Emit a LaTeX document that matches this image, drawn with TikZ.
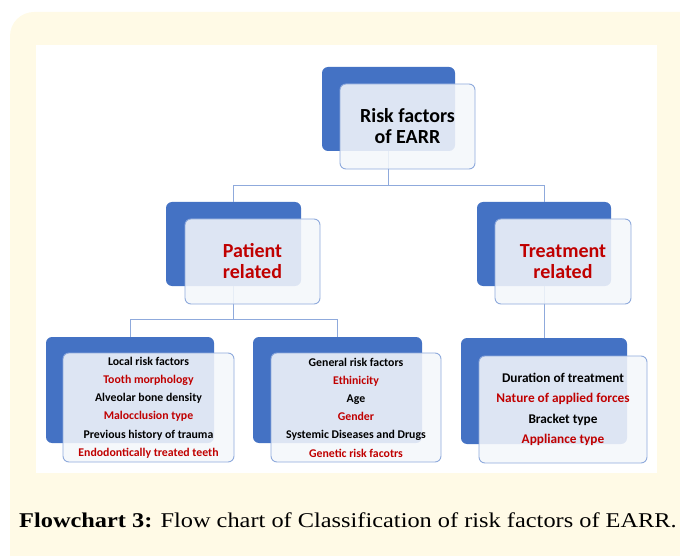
\documentclass[tikz,border=0pt]{standalone}
\usepackage{fontspec}
\setmainfont{Carlito}
\newfontfamily\capfont[FakeStretch=1.16]{Liberation Serif}
\definecolor{earrblue}{HTML}{4472C4}
\definecolor{edgeblue}{HTML}{8FAADC}
\definecolor{earrred}{HTML}{C00000}
\definecolor{cream}{HTML}{FFFAE6}
\newcommand{\rk}[1]{\textcolor{earrred}{#1}}

\begin{document}
\begin{tikzpicture}[x=1pt, y=-1pt,
    back/.style={rectangle, rounded corners=6pt, fill=earrblue, inner sep=0pt},
    front/.style={rectangle, rounded corners=6pt, draw=edgeblue, line width=0.9pt,
                  fill=white!94!earrblue, fill opacity=0.87, text opacity=1,
                  inner sep=0pt, align=center},
    conn/.style={draw=edgeblue, line width=0.9pt},
    bigtxt/.style={font=\fontsize{20}{21}\selectfont\bfseries},
    listtxt/.style={font=\fontsize{11.8}{18.2}\selectfont\bfseries},
    treattxt/.style={font=\fontsize{13.3}{20.5}\selectfont\bfseries}]
  \useasboundingbox (0,0) rectangle (680,556);
  \clip (0,0) rectangle (680,556);
  \fill[cream, rounded corners=24pt] (10,12) rectangle (720,600);
  \fill[white] (36,45) rectangle (657,473);

  % blue back boxes
  \node[back, minimum width=133pt, minimum height=84pt] (root) at (388.5,109) {};
  \node[back, minimum width=135pt, minimum height=84pt] (patient) at (233.5,244) {};
  \node[back, minimum width=134pt, minimum height=84pt] (treat) at (544,244) {};
  \node[back, minimum width=168pt, minimum height=106pt] (local) at (130,390) {};
  \node[back, minimum width=169pt, minimum height=106pt] (general) at (337.5,390) {};
  \node[back, minimum width=166pt, minimum height=106pt] (tfac) at (544,391) {};

  % connectors
  \draw[conn] (root.south) -- ++(0,34) -| (patient.north);
  \draw[conn] (root.south) -- ++(0,34) -| (treat.north);
  \draw[conn] (patient.south) -- ++(0,33) -| (local.north);
  \draw[conn] (patient.south) -- ++(0,33) -| (general.north);
  \draw[conn] (treat.south) -- (tfac.north);

  % front boxes with text
  \node[front, bigtxt, minimum width=135pt, minimum height=85pt] (rootF) at (407.5,126.5)
    {Risk factors\\of EARR};
  \node[front, bigtxt, text=earrred, minimum width=135pt, minimum height=85pt] (patientF)
    at (252.5,261.5) {Patient\\related};
  \node[front, bigtxt, text=earrred, minimum width=136pt, minimum height=85pt] (treatF)
    at (563,261.5) {Treatment\\related};
  \node[front, listtxt, minimum width=171pt, minimum height=109pt] (localF) at (148.5,407.5)
    {Local risk factors\\ \rk{Tooth morphology}\\ Alveolar bone density\\
     \rk{Malocclusion type}\\ Previous history of trauma\\ \rk{Endodontically treated teeth}};
  \node[front, listtxt, minimum width=170pt, minimum height=109pt] (generalF) at (356,407.5)
    {General risk factors\\ \rk{Ethinicity}\\ Age\\ \rk{Gender}\\
     Systemic Diseases and Drugs\\ \rk{Genetic risk facotrs}};
  \node[front, treattxt, minimum width=168pt, minimum height=107pt] (tfacF) at (563,409.5)
    {Duration of treatment\\ \rk{Nature of applied forces}\\ Bracket type\\ \rk{Appliance type}};

  % caption
  \node[font=\capfont\fontsize{21}{24}\selectfont, anchor=base west, inner sep=0pt] (caption)
    at (19,527) {\textbf{Flowchart 3:} Flow chart of Classification of risk factors of EARR.};
\end{tikzpicture}
\end{document}
